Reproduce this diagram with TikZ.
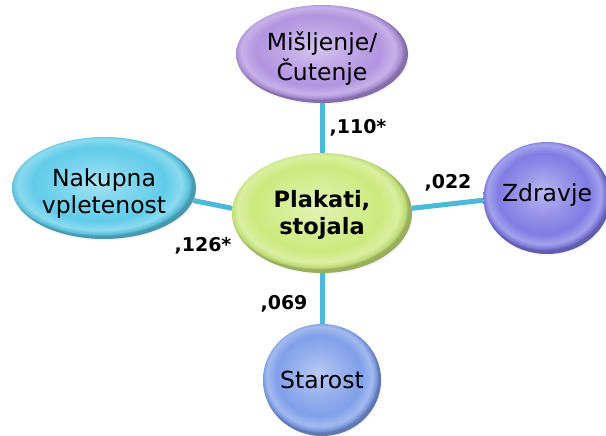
\documentclass[tikz,border=0pt]{standalone}
\usepackage{fontspec}
\setmainfont{DejaVu Sans}
\usetikzlibrary{shapes.geometric,shadows}

% bubble colours
\definecolor{lilacB}{RGB}{178,148,224}
\definecolor{cyanB}{RGB}{96,204,234}
\definecolor{limeB}{RGB}{204,234,126}
\definecolor{violetB}{RGB}{128,124,228}
\definecolor{blueB}{RGB}{128,160,234}
\definecolor{linkC}{RGB}{75,185,215}

% glossy radial fill: soft light core, body, light inner rim, dark edge
\newcommand\glossshading[2]{%
  \pgfdeclareradialshading{#1}{\pgfpoint{-2bp}{3bp}}{%
    color(0bp)=(#2!55!white);
    color(10bp)=(#2!82!white);
    color(18bp)=(#2);
    color(22.3bp)=(#2!72!white);
    color(24.2bp)=(#2!94!black);
    color(25bp)=(#2!75!black);
    color(50bp)=(#2!75!black)}}
\glossshading{glossLilac}{lilacB}
\glossshading{glossCyan}{cyanB}
\glossshading{glossLime}{limeB}
\glossshading{glossViolet}{violetB}
\glossshading{glossBlue}{blueB}

% text block, lowered by #1 inside its bubble
\newcommand\bubbletext[2]{\raisebox{#1}[0pt][0pt]{\begin{tabular}{@{}c@{}}#2\end{tabular}}}

\tikzset{
  bubble/.style={ellipse, inner sep=0pt,
    font=\fontsize{23.5}{27}\selectfont,
    drop shadow={opacity=0.08, shadow xshift=1pt, shadow yshift=-1.5pt}},
  link/.style={draw=linkC, line width=5pt},
  weight/.style={font=\fontsize{19}{22}\selectfont\bfseries, inner sep=0pt}
}

\begin{document}
\begin{tikzpicture}[x=1pt,y=-1pt]
\useasboundingbox (0,0) rectangle (606,436);

% bubbles
\node[bubble, shading=glossLilac, minimum width=172pt, minimum height=98pt]
  (think) at (322,54) {\bubbletext{-12pt}{Mišljenje/\\Čutenje}};
\node[bubble, shading=glossLime, minimum width=180pt, minimum height=120pt,
  font=\fontsize{22.5}{27}\selectfont\bfseries]
  (plak) at (322,213) {\bubbletext{-8pt}{Plakati,\\stojala}};
\node[bubble, shading=glossCyan, minimum width=184pt, minimum height=102pt]
  (buy) at (104,188) {\bubbletext{-13pt}{Nakupna\\vpletenost}};
\node[bubble, shading=glossViolet, minimum width=114pt, minimum height=112pt]
  (health) at (547,198) {\bubbletext{-4pt}{Zdravje}};
\node[bubble, shading=glossBlue, minimum width=114pt, minimum height=112pt]
  (age) at (322,380) {\bubbletext{-9pt}{Starost}};

% connectors
\draw[link] (think.south) -- (plak.north);
\draw[link] (plak.south) -- (age.north);
\draw[link] (plak.177) -- (buy.-8);
\draw[link] (plak.3) -- (health.182);

% correlation weights
\node[weight] (w1) at (358,128) {,110*};
\node[weight] (w2) at (448,183) {,022};
\node[weight] (w3) at (203,246) {,126*};
\node[weight] (w4) at (284,304) {,069};
\end{tikzpicture}
\end{document}
